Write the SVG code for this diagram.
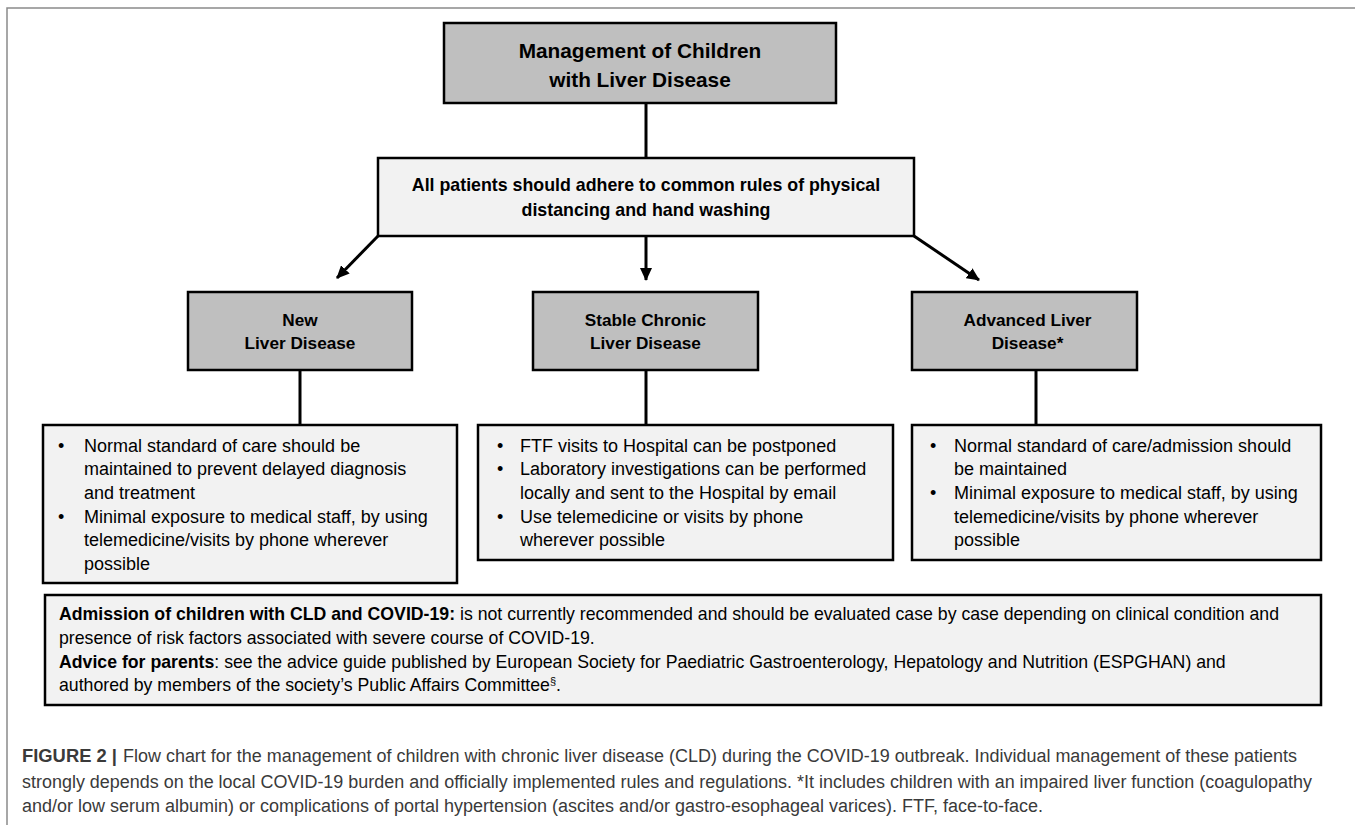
<svg xmlns="http://www.w3.org/2000/svg" width="1355" height="825" viewBox="0 0 1355 825">
<defs>
<style>
.dark{fill:#bfbfbf;stroke:#000;stroke-width:2.5}
.light{fill:#f2f2f2;stroke:#000;stroke-width:2.5}
.t{font-family:"Liberation Sans",Arial,sans-serif;fill:#000}
.b{font-weight:bold}
.title{font-size:20.8px;font-weight:bold;text-anchor:middle}
.mid{font-size:17.8px;font-weight:bold;text-anchor:middle}
.lab{font-size:17.2px;font-weight:bold;text-anchor:middle}
.bul{font-size:18px}
.bot{font-size:17.7px}
.cap{font-family:"Liberation Sans",Arial,sans-serif;font-size:18px;fill:#3a3a3a}
.conn{stroke:#000;stroke-width:3;fill:none}
</style>
<marker id="ah" markerWidth="14" markerHeight="12" refX="12" refY="6" orient="auto" markerUnits="userSpaceOnUse">
<path d="M0,0 L13,6 L0,12 z" fill="#000"/>
</marker>
</defs>
<rect width="1355" height="825" fill="#fff"/>
<path d="M7,825 L7,8 L1355,8" fill="none" stroke="#8a8a8a" stroke-width="1.5"/>

<g id="connectors">
<line class="conn" x1="646" y1="103" x2="646" y2="158"/>
<line class="conn" x1="378" y1="236" x2="337" y2="278" marker-end="url(#ah)"/>
<line class="conn" x1="646" y1="236" x2="646" y2="280" marker-end="url(#ah)"/>
<line class="conn" x1="914" y1="236" x2="979" y2="280" marker-end="url(#ah)"/>
<line class="conn" x1="300" y1="370" x2="300" y2="425"/>
<line class="conn" x1="646" y1="370" x2="646" y2="425"/>
<line class="conn" x1="1036" y1="370" x2="1036" y2="425"/>
</g>

<g id="node-top">
<rect class="dark" x="444" y="23" width="392" height="80"/>
<text class="t title" x="640" y="57.5">Management of Children</text>
<text class="t title" x="640" y="86.5">with Liver Disease</text>
</g>

<g id="node-all">
<rect class="light" x="378" y="158" width="536" height="78"/>
<text class="t mid" x="646" y="190.5">All patients should adhere to common rules of physical</text>
<text class="t mid" x="646" y="215.5">distancing and hand washing</text>
</g>

<g id="node-new">
<rect class="dark" x="188" y="292" width="224" height="78"/>
<text class="t lab" x="300" y="326">New</text>
<text class="t lab" x="300" y="349">Liver Disease</text>
</g>

<g id="node-stable">
<rect class="dark" x="533" y="292" width="225" height="78"/>
<text class="t lab" x="645.5" y="326">Stable Chronic</text>
<text class="t lab" x="645.5" y="349">Liver Disease</text>
</g>

<g id="node-advanced">
<rect class="dark" x="912" y="292" width="225" height="78"/>
<text class="t lab" x="1027.5" y="326">Advanced Liver</text>
<text class="t lab" x="1027.5" y="349">Disease*</text>
</g>

<g id="node-new-care">
<rect class="light" x="43" y="425" width="414" height="158"/>
<text class="t bul" x="58" y="451.5">•</text>
<text class="t bul" x="84" y="451.5">Normal standard of care should be</text>
<text class="t bul" x="84" y="475">maintained to prevent delayed diagnosis</text>
<text class="t bul" x="84" y="498.5">and treatment</text>
<text class="t bul" x="58" y="522.5">•</text>
<text class="t bul" x="84" y="522.5">Minimal exposure to medical staff, by using</text>
<text class="t bul" x="84" y="545.5">telemedicine/visits by phone wherever</text>
<text class="t bul" x="84" y="569.5">possible</text>
</g>

<g id="node-stable-care">
<rect class="light" x="478" y="425" width="415" height="135"/>
<text class="t bul" x="497" y="451.5">•</text>
<text class="t bul" x="520" y="451.5">FTF visits to Hospital can be postponed</text>
<text class="t bul" x="497" y="475">•</text>
<text class="t bul" x="520" y="475">Laboratory investigations can be performed</text>
<text class="t bul" x="520" y="498.5">locally and sent to the Hospital by email</text>
<text class="t bul" x="497" y="522.5">•</text>
<text class="t bul" x="520" y="522.5">Use telemedicine or visits by phone</text>
<text class="t bul" x="520" y="545.5">wherever possible</text>
</g>

<g id="node-advanced-care">
<rect class="light" x="912" y="425" width="409" height="135"/>
<text class="t bul" x="930" y="451.5">•</text>
<text class="t bul" x="954" y="451.5">Normal standard of care/admission should</text>
<text class="t bul" x="954" y="475">be maintained</text>
<text class="t bul" x="930" y="498.5">•</text>
<text class="t bul" x="954" y="498.5">Minimal exposure to medical staff, by using</text>
<text class="t bul" x="954" y="522.5">telemedicine/visits by phone wherever</text>
<text class="t bul" x="954" y="545.5">possible</text>
</g>

<g id="node-admission">
<rect class="light" x="45" y="595" width="1276" height="110"/>
<text class="t bot" x="59" y="619.5"><tspan class="b">Admission of children with CLD and COVID-19:</tspan> is not currently recommended and should be evaluated case by case depending on clinical condition and</text>
<text class="t bot" x="59" y="643.5">presence of risk factors associated with severe course of COVID-19.</text>
<text class="t bot" x="59" y="667.5"><tspan class="b">Advice for parents</tspan>: see the advice guide published by European Society for Paediatric Gastroenterology, Hepatology and Nutrition (ESPGHAN) and</text>
<text class="t bot" x="59" y="690.5">authored by members of the society’s Public Affairs Committee<tspan font-size="11" dy="-6">§</tspan><tspan dy="6">.</tspan></text>
</g>

<g id="caption">
<text class="cap" x="22" y="761.5" font-weight="bold" fill="#222" textLength="95" lengthAdjust="spacingAndGlyphs">FIGURE 2 |</text>
<text class="cap" x="123" y="761.5" textLength="1174" lengthAdjust="spacingAndGlyphs">Flow chart for the management of children with chronic liver disease (CLD) during the COVID-19 outbreak. Individual management of these patients</text>
<text class="cap" x="22" y="787.5" textLength="1290" lengthAdjust="spacingAndGlyphs">strongly depends on the local COVID-19 burden and officially implemented rules and regulations. *It includes children with an impaired liver function (coagulopathy</text>
<text class="cap" x="22" y="811.5" textLength="1021" lengthAdjust="spacingAndGlyphs">and/or low serum albumin) or complications of portal hypertension (ascites and/or gastro-esophageal varices). FTF, face-to-face.</text>
</g>
</svg>
